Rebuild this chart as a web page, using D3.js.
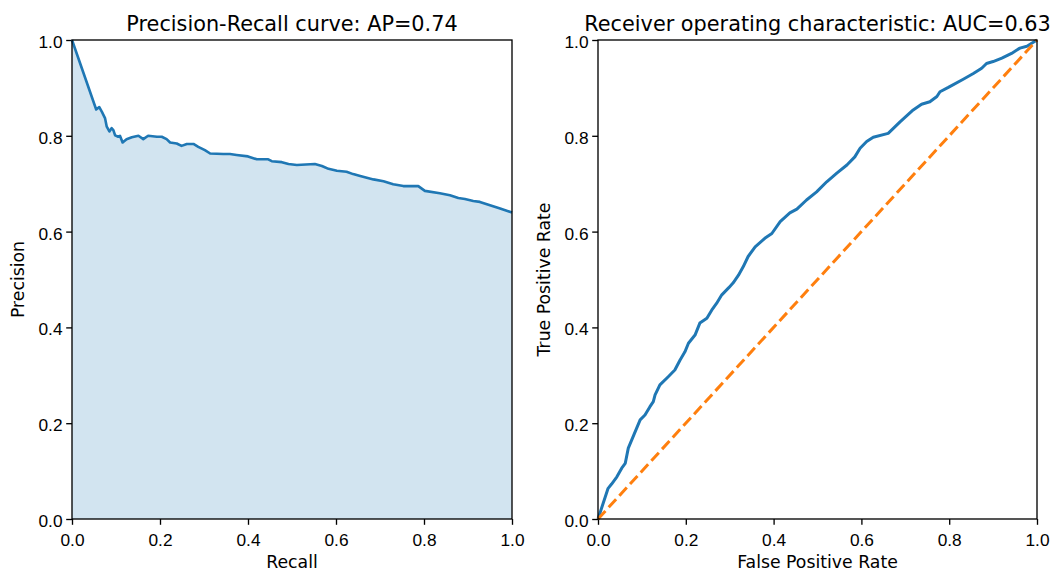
<!doctype html>
<html lang="en">
<head>
<meta charset="utf-8">
<style>
  body { margin: 0; background: #fff; }
  svg { display: block; font-family: "DejaVu Sans", sans-serif; }
  .frame { fill: none; stroke: #000; stroke-width: 1.33; }
  .tick line { stroke: #000; stroke-width: 1.33; }
  .tick text { font-size: 17.3px; fill: #000; }
  .title { font-size: 20.8px; fill: #000; }
  .label { font-size: 17.3px; fill: #000; }
</style>
</head>
<body>
<script src="https://cdn.jsdelivr.net/npm/d3@7"></script>
<script>
var ticks = [0, 0.2, 0.4, 0.6, 0.8, 1.0];

// precision-recall curve
var prRecall = [0, 0.055, 0.062, 0.068, 0.075, 0.079, 0.085, 0.090, 0.094, 0.098,
  0.105, 0.109, 0.115, 0.124, 0.136, 0.151, 0.162, 0.173, 0.193, 0.204,
  0.215, 0.223, 0.238, 0.249, 0.261, 0.276, 0.287, 0.302, 0.314, 0.344,
  0.359, 0.374, 0.400, 0.420, 0.446, 0.454, 0.477, 0.492, 0.511, 0.552,
  0.568, 0.583, 0.602, 0.624, 0.639, 0.655, 0.685, 0.708, 0.730, 0.753,
  0.787, 0.802, 0.836, 0.859, 0.878, 0.893, 0.912, 0.927, 0.950, 0.973, 1.0];
var prPrecision = [1.0, 0.855, 0.860, 0.850, 0.837, 0.819, 0.809, 0.816, 0.812, 0.801,
  0.798, 0.800, 0.786, 0.793, 0.797, 0.800, 0.793, 0.800, 0.798, 0.798,
  0.793, 0.786, 0.784, 0.779, 0.783, 0.783, 0.777, 0.770, 0.763, 0.762,
  0.762, 0.760, 0.757, 0.751, 0.751, 0.747, 0.745, 0.741, 0.739, 0.741,
  0.737, 0.731, 0.727, 0.725, 0.720, 0.716, 0.709, 0.705, 0.699, 0.695,
  0.695, 0.685, 0.680, 0.676, 0.670, 0.668, 0.664, 0.662, 0.655, 0.648, 0.640];

// roc curve
var rocFpr = [0, 0.023, 0.031, 0.043, 0.054, 0.062, 0.069, 0.080, 0.096, 0.107,
  0.118, 0.126, 0.130, 0.141, 0.160, 0.175, 0.187, 0.198, 0.206, 0.221,
  0.232, 0.248, 0.259, 0.270, 0.282, 0.298, 0.308, 0.320, 0.331, 0.342,
  0.358, 0.380, 0.396, 0.415, 0.437, 0.453, 0.475, 0.498, 0.521, 0.544,
  0.567, 0.585, 0.597, 0.612, 0.627, 0.661, 0.688, 0.718, 0.737, 0.756,
  0.772, 0.779, 0.798, 0.832, 0.855, 0.874, 0.885, 0.900, 0.920, 0.942,
  0.961, 0.977, 1.0];
var rocTpr = [0, 0.064, 0.073, 0.088, 0.106, 0.116, 0.148, 0.172, 0.207, 0.217,
  0.234, 0.245, 0.259, 0.280, 0.297, 0.311, 0.332, 0.349, 0.367, 0.384,
  0.409, 0.419, 0.436, 0.450, 0.468, 0.483, 0.493, 0.509, 0.527, 0.548,
  0.568, 0.586, 0.596, 0.621, 0.639, 0.647, 0.666, 0.683, 0.704, 0.722,
  0.739, 0.756, 0.774, 0.788, 0.797, 0.805, 0.829, 0.854, 0.866, 0.871,
  0.882, 0.892, 0.901, 0.918, 0.930, 0.941, 0.951, 0.955, 0.962, 0.972,
  0.983, 0.987, 1.0];
var chanceFpr = [0, 1];
var chanceTpr = [0, 1];

var titles = ["Precision-Recall curve: AP=0.74", "Receiver operating characteristic: AUC=0.63"];
var xLabels = ["Recall", "False Positive Rate"];
var yLabels = ["Precision", "True Positive Rate"];

var width = 1053, height = 573;
var plotTop = 40, plotBottom = 519;
var lefts = [72, 598], rights = [512, 1037];
var blue = "#1f77b4", orange = "#ff7f0e";

var svg = d3.select("body").append("svg")
  .attr("width", width)
  .attr("height", height);

function panel(i) {
  var x = d3.scaleLinear().domain([0, 1]).range([lefts[i], rights[i]]);
  var y = d3.scaleLinear().domain([0, 1]).range([plotBottom, plotTop]);
  var g = svg.append("g");

  var xAxis = g.append("g")
    .attr("transform", "translate(0," + plotBottom + ")")
    .call(d3.axisBottom(x).tickValues(ticks).tickFormat(d3.format(".1f")).tickSize(5.8));
  xAxis.select(".domain").remove();
  xAxis.selectAll(".tick text").attr("dy", null).attr("y", 26.5);

  var yAxis = g.append("g")
    .attr("transform", "translate(" + lefts[i] + ",0)")
    .call(d3.axisLeft(y).tickValues(ticks).tickFormat(d3.format(".1f")).tickSize(5.8));
  yAxis.select(".domain").remove();
  yAxis.selectAll(".tick text").attr("dy", 7.5).attr("x", -9.5);
  g.selectAll(".tick text").attr("font-family", null).attr("font-size", null);

  g.append("text").attr("class", "title")
    .attr("x", (lefts[i] + rights[i]) / 2).attr("y", 30.5)
    .attr("text-anchor", "middle").text(titles[i]);
  g.append("text").attr("class", "label")
    .attr("x", (lefts[i] + rights[i]) / 2).attr("y", 567.5)
    .attr("text-anchor", "middle").text(xLabels[i]);
  var yl = i === 0 ? 24 : 549.5;
  g.append("text").attr("class", "label")
    .attr("transform", "translate(" + yl + "," + ((plotTop + plotBottom) / 2) + ") rotate(-90)")
    .attr("text-anchor", "middle").text(yLabels[i]);
  return { g: g, x: x, y: y };
}

var pr = panel(0);
var prData = prRecall.map(function(r, k) { return [r, prPrecision[k]]; });
pr.g.insert("path", ":first-child")
  .datum(prData)
  .attr("fill", blue).attr("fill-opacity", 0.2)
  .attr("d", d3.area().x(function(d) { return pr.x(d[0]); })
    .y0(pr.y(0)).y1(function(d) { return pr.y(d[1]); }));
pr.g.append("path")
  .datum(prData)
  .attr("fill", "none").attr("stroke", blue).attr("stroke-width", 2.6)
  .attr("stroke-linejoin", "round")
  .attr("d", d3.line().x(function(d) { return pr.x(d[0]); }).y(function(d) { return pr.y(d[1]); }));

var roc = panel(1);
var rocLine = d3.line().x(function(d) { return roc.x(d[0]); }).y(function(d) { return roc.y(d[1]); });
roc.g.append("path")
  .datum(rocFpr.map(function(f, k) { return [f, rocTpr[k]]; }))
  .attr("fill", "none").attr("stroke", blue).attr("stroke-width", 3)
  .attr("stroke-linejoin", "round")
  .attr("d", rocLine);
roc.g.append("path")
  .datum(chanceFpr.map(function(f, k) { return [f, chanceTpr[k]]; }))
  .attr("fill", "none").attr("stroke", orange).attr("stroke-width", 3)
  .attr("stroke-dasharray", "11,4.8")
  .attr("d", rocLine);

[0, 1].forEach(function(i) {
  svg.append("rect").attr("class", "frame")
    .attr("x", lefts[i]).attr("y", plotTop)
    .attr("width", rights[i] - lefts[i]).attr("height", plotBottom - plotTop);
});
</script>
</body>
</html>
